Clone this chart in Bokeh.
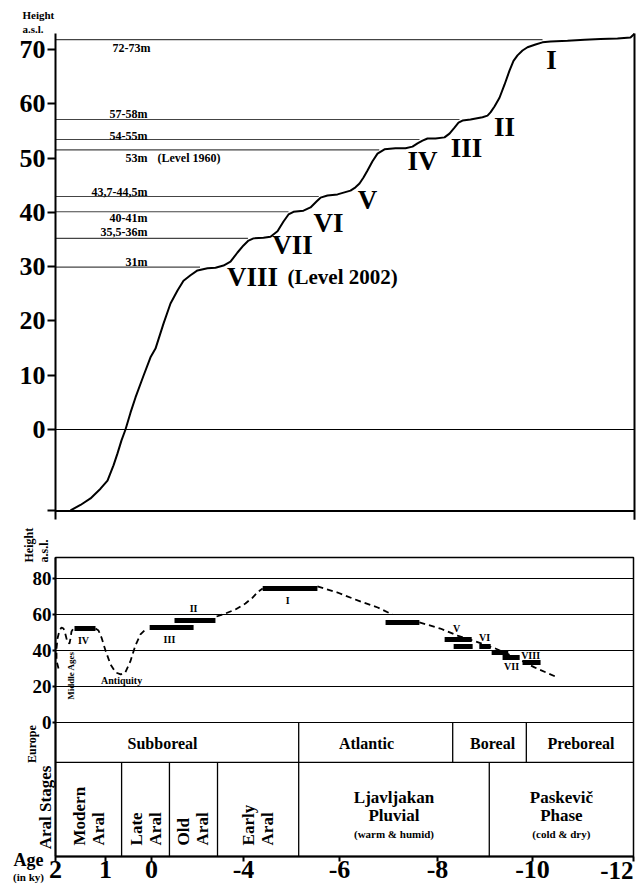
import numpy as np
from bokeh.plotting import figure
from bokeh.models import Range1d, FixedTicker
from bokeh.layouts import column
from bokeh.embed import file_html
from bokeh.resources import INLINE
from bokeh.core.properties import value

FONT = "Liberation Serif"

# ---------------- Upper panel: schematic Aral Sea level curve ----------------
# relative time (arbitrary units along the panel) and lake level (m a.s.l.)
curve_t = [15, 25, 35, 45, 52, 58, 62, 66, 70, 75,
           80, 88, 95, 100, 108, 115, 122, 128, 135, 142,
           152, 160, 168, 175, 182, 188, 193, 198, 208, 215,
           222, 228, 233, 238, 248, 255, 261, 265, 272, 282,
           295, 300, 304, 308, 312, 317, 322, 329, 340, 350,
           357, 362, 367, 372, 380, 389, 394, 399, 403, 407,
           415, 427, 432, 435, 439, 444, 449, 454, 458, 462,
           467, 472, 480, 487, 495, 512, 529, 545, 562, 575,
           579]
curve_h = [-14.9, -13.9, -12.7, -10.9, -9.4, -6.6, -4.4, -2.0, 0.0, 3.1,
           5.9, 9.9, 13.3, 14.9, 19.5, 23.2, 25.6, 27.4, 28.4, 29.3,
           29.7, 29.8, 30.2, 30.9, 32.6, 33.9, 34.8, 35.2, 35.3, 35.5,
           36.5, 38.3, 39.6, 40.1, 40.3, 40.9, 42.0, 42.7, 43.1, 43.3,
           44.0, 44.6, 45.3, 46.4, 47.7, 49.4, 50.8, 51.6, 51.8, 51.8,
           52.1, 52.7, 53.2, 53.6, 53.6, 53.8, 54.5, 55.6, 56.5, 56.9,
           57.1, 57.5, 57.8, 58.4, 59.5, 61.1, 63.5, 66.1, 67.9, 68.9,
           69.8, 70.4, 70.9, 71.3, 71.45, 71.6, 71.8, 71.9, 72.0, 72.2,
           72.9]
TOP_TICKS = [-15, 0, 10, 20, 30, 40, 50, 60, 70]
TOP_T_END = 579
TOP_H_MIN, TOP_H_MAX = -16.6, 72.93

level_heights = [71.8, 57.1, 53.4, 51.5, 42.9, 40.1, 35.2, 29.9]
level_labels = ["72-73m", "57-58m", "54-55m", "53m", "43,7-44,5m", "40-41m", "35,5-36m", "31m"]
level_label_dy = [8, -5, -4, 8, -5, 6, -6, -5]       # screen offset of label from its line
level_label_x = [95, 92, 92, 92, 92, 92, 92, 92]     # right edge of the label

stage_names = ["I", "II", "III", "IV", "V", "VI", "VII", "VIII"]
stage_label_t = [496, 449, 411, 367, 312, 273, 237, 197]
stage_label_h = [68.0, 55.8, 51.9, 49.5, 42.2, 38.1, 33.9, 28.0]

# ---------------- Lower panel: levels against age ----------------
AGE_TICKS = [2, 1, 0, -4, -6, -8, -10, -12]
AGE_TICK_LABELS = ["2", "1", "0", "-4", "-6", "-8", "-10", "-12"]
AXIS_KNOTS = [0, 50, 96, 188, 284, 382, 477, 578]   # uneven age scale of the original figure
HEIGHT_TICKS = [0, 20, 40, 60, 80]
BOT_H_MAX = 91.67
Y_BOTTOM = -74.44
EU_ROW = (0, -22.2)


def apos(age):
    return np.interp(-np.asarray(age, dtype=float), -np.asarray(AGE_TICKS, dtype=float), AXIS_KNOTS)


bar_start = [1.62, 0.04, -1.00, -4.40, -6.94, -8.15, -8.34, -8.88, -9.14, -9.37, -9.79]
bar_end = [1.20, -1.83, -2.78, -5.54, -7.63, -8.72, -8.74, -9.12, -9.49, -9.73, -10.16]
bar_height = [52.2, 52.8, 56.7, 74.4, 55.6, 46.1, 42.2, 42.2, 38.9, 36.1, 33.3]

bar_label = ["IV", "III", "II", "I", "V", "VI", "VII", "VIII"]
bar_label_age = [1.44, -0.78, -1.83, -4.92, -8.40, -8.99, -9.56, -9.96]
bar_label_h = [45.6, 46.1, 63.3, 67.8, 52.2, 47.2, 31.1, 37.2]

middle_ages_age = [1.94, 1.98, 1.98, 1.96, 1.92, 1.88, 1.84, 1.80, 1.76, 1.72, 1.70, 1.68, 1.64]
middle_ages_h = [30.0, 34.4, 41.1, 46.7, 51.1, 52.8, 52.2, 48.9, 44.4, 43.9, 46.7, 50.6, 52.2]
antiquity_age = [1.20, 1.14, 1.08, 1.00, 0.89, 0.78, 0.67, 0.57, 0.46, 0.35, 0.24, 0.13]
antiquity_h = [52.2, 51.1, 47.2, 40.0, 32.2, 27.8, 26.7, 27.8, 33.9, 42.8, 48.9, 51.7]
rise_age = [-2.83, -3.22, -3.65, -4.04, -4.19, -4.31, -4.40]
rise_h = [58.9, 60.6, 62.8, 66.1, 69.4, 72.8, 74.4]
fall1_age = [-5.54, -5.96, -6.37, -6.78, -7.08]
fall1_h = [75.6, 72.2, 67.8, 63.9, 60.0]
fall2_age = [-7.63, -8.06, -8.42, -8.80, -9.22, -9.64, -10.04, -10.50]
fall2_h = [55.6, 52.2, 48.3, 45.0, 41.1, 36.1, 30.6, 25.0]

europe_names = ["Subboreal", "Atlantic", "Boreal", "Preboreal"]
europe_bounds = [2, -5.15, -8.32, -9.87, -12]
europe_label_age = [-0.48, -6.55, -9.16, -10.96]

aral_rot_names = [("Modern", "Aral"), ("Late", "Aral"), ("Old", "Aral"), ("Early", "Aral")]
aral_text_names = [("Ljavljakan", "Pluvial", "(warm & humid)"), ("Paskevič", "Phase", "(cold & dry)")]
aral_bounds = [2, 0.65, -0.78, -2.87, -5.15, -9.09, -12]


def txt(p, x, y, text, size, align="center", baseline="middle", **kw):
    p.text(x=list(x), y=list(y), text=list(text), text_font=value(FONT), text_font_style="bold",
           text_font_size=size, text_align=align, text_baseline=baseline, text_color="black", **kw)


def style_axis(ax, size, tick_out, standoff, width=2):
    ax.major_label_text_font = FONT
    ax.major_label_text_font_style = "bold"
    ax.major_label_text_font_size = size
    ax.major_label_text_color = "black"
    ax.axis_line_width = width
    ax.axis_line_color = "black"
    ax.major_tick_line_width = width
    ax.major_tick_line_color = "black"
    ax.major_tick_out = tick_out
    ax.major_tick_in = 0
    ax.minor_tick_out = 0
    ax.minor_tick_in = 0
    ax.major_label_standoff = standoff


# ---------------- Upper figure (frame covers the whole canvas) ----------------
top = figure(width=637, height=520, x_range=Range1d(-55, 582), y_range=Range1d(-16.76, 79.01),
             output_backend="svg", toolbar_location=None, x_axis_location=None, min_border=0)
top.outline_line_color = None
top.grid.visible = False

ya = top.yaxis[0]
ya.fixed_location = 0
ya.bounds = (TOP_H_MIN, TOP_H_MAX)
ya.ticker = FixedTicker(ticks=TOP_TICKS)
ya.major_label_overrides = {-15: ""}
style_axis(ya, "26px", 8, 2)

top.segment(x0=[0, 0, TOP_T_END], x1=[TOP_T_END, TOP_T_END, TOP_T_END],
            y0=[-15, 0, TOP_H_MIN], y1=[-15, 0, TOP_H_MAX],
            line_color="black", line_width=[2, 1.2, 2])

# level lines end where the curve first reaches them
ch = np.maximum.accumulate(np.asarray(curve_h))
level_ends = [float(np.interp(h - 0.5, ch, curve_t)) for h in level_heights]
top.segment(x0=[0] * len(level_heights), x1=level_ends, y0=level_heights, y1=level_heights,
            line_color="#444444", line_width=1.1)

top.line(curve_t, curve_h, line_color="black", line_width=2)

txt(top, level_label_x, level_heights, level_labels, "12px", align="right", y_offset=level_label_dy)
txt(top, [102], [level_heights[3]], ["(Level  1960)"], "12px", align="left", y_offset=[8])
txt(top, stage_label_t, stage_label_h, stage_names, "27px")
txt(top, [232], [stage_label_h[-1]], ["(Level 2002)"], "21px", align="left")
txt(top, [-33, -33], [76.3, 73.8], ["Height", "a.s.l."], "11px", align="left")

# ---------------- Lower figure (frame covers the whole canvas) ----------------
bot = figure(width=637, height=366, x_range=Range1d(-55, 582), y_range=Range1d(-91.11, 112.22),
             output_backend="svg", toolbar_location=None, min_border=0)
bot.outline_line_color = None
bot.grid.visible = False

yb = bot.yaxis[0]
yb.fixed_location = 0
yb.bounds = (Y_BOTTOM, BOT_H_MAX)
yb.ticker = FixedTicker(ticks=HEIGHT_TICKS)
style_axis(yb, "19px", 3, 1)

xb = bot.xaxis[0]
xb.fixed_location = Y_BOTTOM
xb.bounds = (0, AXIS_KNOTS[-1])
xb.ticker = FixedTicker(ticks=AXIS_KNOTS)
xb.major_label_overrides = {k: (lab if lab != "-12" else "") for k, lab in zip(AXIS_KNOTS, AGE_TICK_LABELS)}
style_axis(xb, "26px", 5, 0)

x_end = AXIS_KNOTS[-1]
# panel frame and horizontal guide lines
bot.quad(left=[0], right=[x_end], bottom=[Y_BOTTOM], top=[BOT_H_MAX],
         fill_color=None, line_color="black", line_width=1.5)
bot.segment(x0=[0] * len(HEIGHT_TICKS), x1=[x_end] * len(HEIGHT_TICKS), y0=HEIGHT_TICKS, y1=HEIGHT_TICKS,
            line_color="black", line_width=1.1)

# table rows
bot.segment(x0=[0], x1=[x_end], y0=[EU_ROW[1]], y1=[EU_ROW[1]], line_color="black", line_width=1.3)
eb = apos(europe_bounds[1:-1])
bot.segment(x0=eb, x1=eb, y0=[EU_ROW[0]] * len(eb), y1=[EU_ROW[1]] * len(eb),
            line_color="black", line_width=1.3)
ab = apos(aral_bounds[1:-1])
bot.segment(x0=ab, x1=ab, y0=[EU_ROW[1]] * len(ab), y1=[Y_BOTTOM] * len(ab),
            line_color="black", line_width=1.3)

txt(bot, apos(europe_label_age), [-11.6] * 4, europe_names, "16px")

aral_centers = (apos(aral_bounds[:-1]) + apos(aral_bounds[1:])) / 2
rot_x, rot_txt, rot_dx = [], [], []
for c, (l1, l2) in zip(aral_centers[:4], aral_rot_names):
    rot_x += [c, c]
    rot_txt += [l1, l2]
    rot_dx += [-9.5, 9.5]
txt(bot, rot_x, [-68.3] * len(rot_x), rot_txt, "17px", align="left", x_offset=rot_dx, angle=np.pi / 2)

hx, hy, ht, hs = [], [], [], []
for c, lines in zip(aral_centers[4:], aral_text_names):
    hx += [c, c, c]
    hy += [-41.7, -51.7, -61.7]
    ht += list(lines)
    hs += ["17px", "17px", "11px"]
bot.text(x=hx, y=hy, text=ht, text_font_size=hs, text_font=value(FONT), text_font_style="bold",
         text_align="center", text_baseline="middle", text_color="black")

# level curve and dated stands
for a, h in [(middle_ages_age, middle_ages_h), (antiquity_age, antiquity_h), (rise_age, rise_h),
             (fall1_age, fall1_h), (fall2_age, fall2_h)]:
    bot.line(apos(a), h, line_color="black", line_width=1.8, line_dash="6 4")

bot.segment(x0=apos(bar_start), x1=apos(bar_end), y0=bar_height, y1=bar_height,
            line_color="black", line_width=5, line_cap="butt")

txt(bot, apos(bar_label_age), bar_label_h, bar_label, "10px")
txt(bot, apos([0.65]), [23.3], ["Antiquity"], "10px")
txt(bot, apos([1.70]), [26.1], ["Middle Ages"], "9px", angle=np.pi / 2)

# margin texts
txt(bot, [-27, -12], [88.9, 88.9], ["Height", "a.s.l."], "12px", align="left", angle=np.pi / 2)
txt(bot, [-24], [-12.0], ["Europe"], "12px", angle=np.pi / 2)
txt(bot, [-10], [-47.2], ["Aral Stages"], "17px", angle=np.pi / 2)
txt(bot, [-27], [-76.4], ["Age"], "18px")
txt(bot, [-27], [-85.6], ["(in ky)"], "11px")
txt(bot, [x_end], [-82.0], [AGE_TICK_LABELS[-1]], "25px", align="right")

layout = column(top, bot, spacing=0)
open("out.html", "w").write(file_html(layout, INLINE))
